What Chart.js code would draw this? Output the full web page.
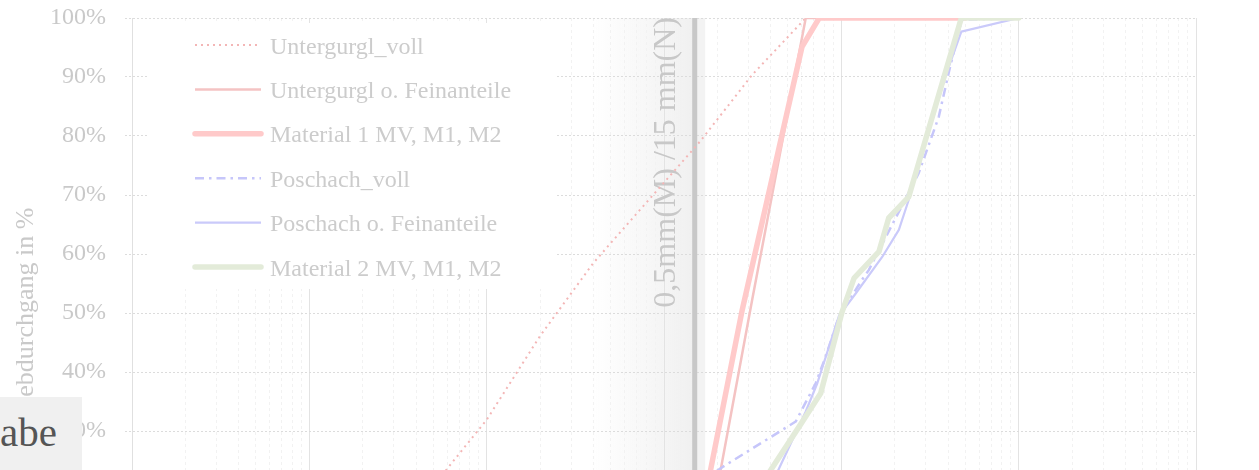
<!DOCTYPE html>
<html><head><meta charset="utf-8">
<script src="https://cdn.jsdelivr.net/npm/chart.js@4.4.1/dist/chart.umd.min.js"></script>
<style>
html,body{margin:0;padding:0;background:#fff;overflow:hidden;width:1259px;height:470px;}
#wrap{position:relative;width:1259px;height:660px;}
#box{position:absolute;left:0;top:397px;width:82px;height:80px;background:#f0f0f0;overflow:hidden;}
#box span{position:absolute;left:0;top:15px;font-family:'Liberation Serif','Times New Roman',serif;font-size:41px;line-height:41px;color:#555;white-space:nowrap;}
</style></head>
<body>
<div id="wrap"><canvas id="c" width="1259" height="660" style="width:1259px;height:660px"></canvas><div id="box"><span>abe</span></div></div>
<script>
// ---- data (grain size d in mm, passing in %) ----
const seriesNames = ["Untergurgl_voll","Untergurgl o. Feinanteile","Material 1 MV, M1, M2","Poschach_voll","Poschach o. Feinanteile","Material 2 MV, M1, M2"];

const untergurglVollD = [0.063, 0.125, 0.25, 0.5, 1, 2, 4, 8, 16, 31.5, 63, 500];
const untergurglVollP = [2, 4, 9, 20.7, 31.9, 46.1, 58.5, 68.8, 79.1, 90.4, 100, 100];

const untergurglFeinD = [8, 16, 31.5, 63, 500];
const untergurglFeinP = [0, 4.7, 52.4, 100, 100];

const material1D = [10, 16, 27.6, 60, 75, 500];
const material1P = [0, 14.5, 50.5, 95.1, 100, 100];

const poschachVollD = [10, 21.4, 55.3, 71.7, 81.6, 96.9, 130.6, 143, 273, 354, 403, 477, 1000];
const poschachVollP = [17, 23.9, 31.6, 38.1, 42.6, 49.4, 55.6, 57.3, 73.7, 83.2, 90.7, 99.7, 100];

const poschachFeinD = [30, 44.6, 63, 73.2, 97, 120.5, 170, 211, 240, 386, 475, 1000];
const poschachFeinP = [12.7, 23.7, 33.3, 38.1, 49.5, 53.3, 59.5, 64.1, 69.2, 90.1, 97.7, 100];

const material2D = [30, 40, 57.7, 76.5, 101, 118, 163, 185, 240, 475, 1000];
const material2P = [17.6, 23.4, 30.7, 36.4, 50.2, 55.9, 60.4, 66.1, 69.7, 100, 100];

const markerD = 15;                 // 0,5 mm model / 15 mm nature
const markerLabel = "0,5mm(M) /15 mm(N)";
const xMin = 0.01, xMax = 10000;
const yTickLabels = ["0%","10%","20%","30%","40%","50%","60%","70%","80%","90%","100%"];
const yTitle = "Siebdurchgang in %";

// ---- helpers ----
const FONT = "'Liberation Serif','Times New Roman',serif";
const pts = (d, p) => d.map((v, i) => ({x: v, y: p[i]}));
const isDecade = v => Math.abs(Math.log10(v) - Math.round(Math.log10(v))) < 1e-9;
const tickValues = [];
for (let e = Math.round(Math.log10(xMin)); e < Math.round(Math.log10(xMax)); e++) {
  for (let m = 1; m < 10; m++) tickValues.push(+(m * Math.pow(10, e)).toPrecision(6));
}
tickValues.push(xMax);
const fmtX = v => String(v).replace('.', ',');

const styles = [
  {borderColor:'#f3b6b6', borderWidth:2, borderDash:[2,4], borderCapStyle:'butt'},
  {borderColor:'#f4c3c3', borderWidth:2.5, borderDash:[], borderCapStyle:'butt'},
  {borderColor:'#ffcaca', borderWidth:5.5, borderDash:[], borderCapStyle:'round'},
  {borderColor:'#c6c6fa', borderWidth:2.5, borderDash:[9,5,2.5,5], borderCapStyle:'butt'},
  {borderColor:'#cacafa', borderWidth:2.2, borderDash:[], borderCapStyle:'butt'},
  {borderColor:'#e3ebd9', borderWidth:5.5, borderDash:[], borderCapStyle:'round'}
];
const seriesData = [
  pts(untergurglVollD, untergurglVollP),
  pts(untergurglFeinD, untergurglFeinP),
  pts(material1D, material1P),
  pts(poschachVollD, poschachVollP),
  pts(poschachFeinD, poschachFeinP),
  pts(material2D, material2P)
];
const datasets = seriesNames.map((n, i) => Object.assign({
  label: n, data: seriesData[i], fill: false, tension: 0, pointRadius: 0,
  borderJoinStyle: 'round', order: seriesNames.length - i
}, styles[i]));

const bandPlugin = {
  id: 'band',
  beforeDraw(chart) {
    const {ctx, chartArea: a, scales: {x}} = chart;
    const px = x.getPixelForValue(markerD);
    ctx.save();
    const g = ctx.createLinearGradient(px - 103, 0, px, 0);
    g.addColorStop(0, 'rgba(240,240,240,0)');
    g.addColorStop(1, 'rgba(240,240,240,1)');
    ctx.fillStyle = g;
    ctx.fillRect(px - 103, a.top, 103, a.bottom - a.top);
    ctx.fillStyle = '#f3f3f3';
    ctx.fillRect(px, a.top, 10, a.bottom - a.top);
    ctx.restore();
  },
  beforeDatasetsDraw(chart) {
    const {ctx, chartArea: a, scales: {x}} = chart;
    const px = x.getPixelForValue(markerD);
    ctx.save();
    ctx.strokeStyle = '#c8c8c8';
    ctx.lineWidth = 5;
    ctx.beginPath(); ctx.moveTo(px - 0.5, a.top); ctx.lineTo(px - 0.5, a.bottom); ctx.stroke();
    ctx.translate(px - 20, a.top - 1);
    ctx.rotate(-Math.PI / 2);
    ctx.font = '32px ' + FONT;
    ctx.fillStyle = '#c8c8c8';
    ctx.textAlign = 'right';
    ctx.textBaseline = 'alphabetic';
    ctx.fillText(markerLabel, 0, 0);
    ctx.restore();
  }
};

const legendPlugin = {
  id: 'boxLegend',
  beforeDatasetsDraw(chart) {
    const c = chart.ctx;
    c.save();
    c.fillStyle = '#ffffff';
    c.fillRect(147, 23, 410, 266);
    chart.data.datasets.forEach((ds, i) => {
      const y = 45 + i * 44.4;
      c.beginPath();
      c.setLineDash(ds.borderDash || []);
      c.lineWidth = ds.borderWidth;
      c.strokeStyle = ds.borderColor;
      c.lineCap = ds.borderCapStyle || 'butt';
      c.moveTo(195, y); c.lineTo(261, y); c.stroke();
      c.setLineDash([]);
      c.fillStyle = '#cccccc';
      c.font = '24px ' + FONT;
      c.textBaseline = 'alphabetic';
      c.textAlign = 'left';
      c.fillText(ds.label, 270, y + 8.5);
    });
    c.restore();
  }
};

new Chart(document.getElementById('c'), {
  type: 'line',
  data: {datasets},
  options: {
    responsive: false,
    animation: false,
    devicePixelRatio: 1,
    layout: {padding: {left: 0, right: 63, top: 18, bottom: 0}},
    plugins: {legend: {display: false}, tooltip: {enabled: false}},
    scales: {
      x: {
        type: 'logarithmic', min: xMin, max: xMax, position: 'bottom',
        afterBuildTicks: s => { s.ticks = tickValues.map(v => ({value: v, major: isDecade(v)})); },
        afterFit: s => { s.height = 52; },
        ticks: {autoSkip: false, maxRotation: 0, font: {family: FONT, size: 24}, color: '#c9c9c9',
          callback: v => isDecade(v) ? fmtX(v) : ''},
        grid: {color: c => (c.tick && isDecade(c.tick.value)) ? '#e3e3e3' : '#f2f2f2', lineWidth: 1, tickLength: 7},
        border: {display: true, color: '#e0e0e0', dash: c => (c.tick && !isDecade(c.tick.value)) ? [3, 3] : []}
      },
      y: {
        min: 0, max: 100,
        afterFit: s => { s.width = 132; s.paddingTop = 0; s.paddingBottom = 0; },
        ticks: {stepSize: 10, padding: 19, font: {family: FONT, size: 24}, color: '#c9c9c9',
          callback: (v) => yTickLabels[Math.round(v / 10)]},
        grid: {color: '#dcdcdc', lineWidth: 1, tickLength: 7, tickBorderDash: [2, 2]},
        border: {display: true, color: '#e0e0e0', dash: [2, 2]},
        title: {display: true, text: yTitle, color: '#c9c9c9', font: {family: FONT, size: 26}, padding: {top: 11, bottom: 0}}
      }
    }
  },
  plugins: [bandPlugin, legendPlugin]
});
</script>
</body></html>
